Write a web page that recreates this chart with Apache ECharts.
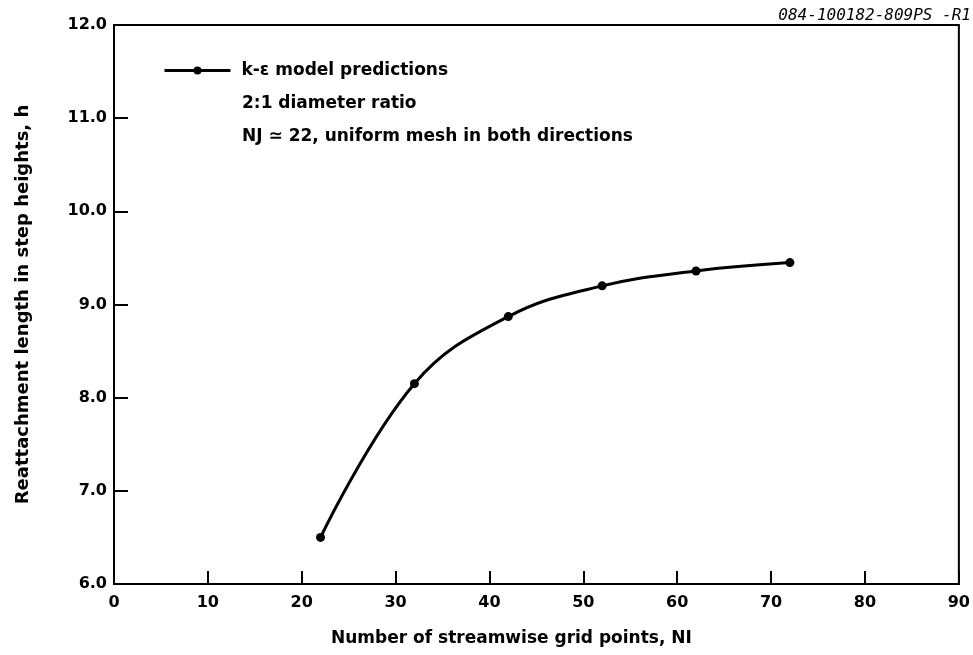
<!DOCTYPE html>
<html>
<head>
<meta charset="utf-8">
<script src="https://cdn.jsdelivr.net/npm/echarts@6/dist/echarts.min.js"></script>
<style>
  html, body { margin: 0; padding: 0; background: #fff; }
  #chart { width: 973px; height: 655px; }
</style>
</head>
<body>
<div id="chart"></div>
<script>
// Streamwise grid points NI and predicted reattachment length (step heights)
const gridPoints = [22, 32, 42, 52, 62, 72];
const reattachLength = [6.5, 8.15, 8.87, 9.2, 9.36, 9.45];

const seriesName = 'k-\u03B5 model predictions';
const noteLines = ['2:1 diameter ratio', 'NJ \u2243 22, uniform mesh in both directions'];
const figureId = '084-100182-809PS -R1';
const xTitle = 'Number of streamwise grid points, NI';
const yTitle = 'Reattachment length in step heights, h';

const FONT = '"DejaVu Sans", "Liberation Sans", sans-serif';
const points = gridPoints.map((x, i) => [x, reattachLength[i]]);

const chart = echarts.init(document.getElementById('chart'), null, { renderer: 'canvas' });
chart.setOption({
  backgroundColor: '#ffffff',
  animation: false,
  grid: {
    left: 114, right: 10, top: 25, bottom: 71,
    show: true, borderColor: '#000', borderWidth: 2, backgroundColor: 'transparent'
  },
  legend: {
    left: 158, top: 57,
    itemWidth: 66, itemHeight: 10,
    data: [seriesName],
    lineStyle: { width: 3, color: '#000' },
    itemStyle: { color: '#000' },
    textStyle: { fontFamily: FONT, fontWeight: 'bold', fontSize: 17, color: '#000', padding: [0, 0, 0, 6] }
  },
  xAxis: {
    type: 'value', min: 0, max: 90, interval: 10,
    name: xTitle, nameLocation: 'middle', nameGap: 46,
    nameTextStyle: { fontFamily: FONT, fontWeight: 'bold', fontSize: 17, color: '#000', padding: [0, 50, 0, 0] },
    axisLine: { show: true, lineStyle: { color: '#000', width: 2 } },
    axisTick: { show: true, inside: true, length: 13, lineStyle: { color: '#000', width: 2 } },
    axisLabel: { margin: 11, fontFamily: FONT, fontWeight: 'bold', fontSize: 16, color: '#000' },
    splitLine: { show: false }
  },
  yAxis: {
    type: 'value', min: 6, max: 12, interval: 1,
    name: yTitle, nameLocation: 'middle', nameGap: 82, nameRotate: 90,
    nameTextStyle: { fontFamily: FONT, fontWeight: 'bold', fontSize: 18, color: '#000' },
    axisLine: { show: true, lineStyle: { color: '#000', width: 2 } },
    axisTick: { show: true, inside: true, length: 14, lineStyle: { color: '#000', width: 2 } },
    axisLabel: {
      margin: 7, fontFamily: FONT, fontWeight: 'bold', fontSize: 16, color: '#000',
      formatter: v => v.toFixed(1)
    },
    splitLine: { show: false }
  },
  graphic: [
    {
      type: 'text', left: 242, top: 95,
      style: { text: noteLines[0], font: 'bold 17px ' + FONT, fill: '#000' }
    },
    {
      type: 'text', left: 242, top: 128,
      style: { text: noteLines[1], font: 'bold 17px ' + FONT, fill: '#000' }
    },
    {
      type: 'text', right: 2, top: 8,
      style: { text: figureId, font: 'italic 16px "DejaVu Sans Mono", monospace', fill: '#000' }
    }
  ],
  series: [{
    name: seriesName,
    type: 'line',
    data: points,
    smooth: 0.4,
    symbol: 'circle',
    symbolSize: 9,
    lineStyle: { color: '#000', width: 3 },
    itemStyle: { color: '#000' }
  }]
});
</script>
</body>
</html>
